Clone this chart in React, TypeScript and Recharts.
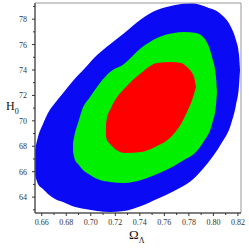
import React from 'react';
import { ComposedChart, Area, XAxis, YAxis, ReferenceArea } from 'recharts';

const xDomain = [0.6545, 0.8225];
const yDomain = [62.75, 79.27];
const xTicks = [0.66, 0.68, 0.70, 0.72, 0.74, 0.76, 0.78, 0.80, 0.82];
const xMinorTicks = [0.67, 0.69, 0.71, 0.73, 0.75, 0.77, 0.79, 0.81];
const yTicks = [64, 66, 68, 70, 72, 74, 76, 78];
const yMinorTicks = [63, 65, 67, 69, 71, 73, 75, 77, 79];

// 3-sigma region (blue)
const blueOmega = [0.6545, 0.6569, 0.6610, 0.6651, 0.6708, 0.6773, 0.6847, 0.6953, 0.7051, 0.7157, 0.7271, 0.7410, 0.7540, 0.7679, 0.7817, 0.7948, 0.8062, 0.8144, 0.8184, 0.8209, 0.8217];
const blueLow = [65.74, 65.03, 64.64, 64.24, 63.85, 63.61, 63.30, 63.06, 62.91, 62.83, 62.91, 63.30, 63.85, 64.48, 65.26, 66.60, 68.17, 69.75, 71.24, 72.81, 73.99];
const blueHigh = [67.70, 68.72, 69.75, 70.61, 71.40, 72.18, 73.05, 74.15, 75.17, 76.03, 76.90, 78.00, 78.71, 79.10, 79.26, 78.94, 78.39, 77.37, 76.35, 75.17, 73.99];

// 2-sigma region (green)
const greenOmega = [0.6855, 0.6871, 0.6896, 0.6928, 0.6994, 0.7075, 0.7157, 0.7271, 0.7410, 0.7540, 0.7679, 0.7760, 0.7858, 0.7923, 0.7989, 0.8021, 0.8029];
const greenLow = [67.55, 66.92, 66.60, 66.21, 65.74, 65.34, 65.19, 65.11, 65.34, 65.82, 66.45, 66.92, 67.55, 68.41, 69.75, 71.24, 72.27];
const greenHigh = [68.26, 69.04, 69.83, 70.85, 71.87, 72.98, 73.84, 74.47, 75.73, 76.52, 76.91, 76.99, 76.91, 76.52, 75.02, 73.45, 72.27];

// 1-sigma region (red)
const redOmega = [0.7124, 0.7132, 0.7157, 0.7198, 0.7279, 0.7410, 0.7540, 0.7654, 0.7736, 0.7785, 0.7826, 0.7842, 0.7858];
const redLow = [68.81, 68.49, 68.18, 67.78, 67.47, 67.55, 68.02, 68.73, 69.75, 70.69, 71.64, 72.11, 72.66];
const redHigh = [69.75, 70.22, 70.85, 71.64, 72.58, 73.76, 74.55, 74.63, 74.55, 74.23, 73.76, 73.45, 72.66];

type Row = { x: number; blue?: number[]; green?: number[]; red?: number[] };
const rows: Row[] = [];
blueOmega.forEach((x, i) => rows.push({ x, blue: [blueLow[i], blueHigh[i]] }));
greenOmega.forEach((x, i) => rows.push({ x, green: [greenLow[i], greenHigh[i]] }));
redOmega.forEach((x, i) => rows.push({ x, red: [redLow[i], redHigh[i]] }));
rows.sort((a, b) => a.x - b.x);

const FONT = '"Liberation Serif", "DejaVu Serif", serif';
const AXIS = '#333';

const XTick = (props: any) => {
  const { x, y, payload } = props;
  const v = payload.value;
  const major = xTicks.some((t) => Math.abs(t - v) < 1e-6);
  return (
    <g>
      <line x1={x} x2={x} y1={y} y2={y + (major ? 3 : 2)} stroke={AXIS} strokeWidth={1} />
      {major && (
        <text x={x} y={y + 12} textAnchor="middle" fontSize={8} fill={AXIS} fontFamily={FONT}>
          {v.toFixed(2)}
        </text>
      )}
    </g>
  );
};

const YTick = (props: any) => {
  const { x, y, payload } = props;
  const v = payload.value;
  const major = yTicks.some((t) => Math.abs(t - v) < 1e-6);
  return (
    <g>
      <line x1={x} x2={x - (major ? 3 : 2)} y1={y} y2={y} stroke={AXIS} strokeWidth={1} />
      {major && (
        <text x={x - 8} y={y + 3} textAnchor="end" fontSize={8} fill={AXIS} fontFamily={FONT}>
          {String(v)}
        </text>
      )}
    </g>
  );
};

const allX = [...xTicks, ...xMinorTicks].sort((a, b) => a - b);
const allY = [...yTicks, ...yMinorTicks].sort((a, b) => a - b);

export default function App() {
  return (
    <div style={{ position: 'absolute', left: 0, top: 0, width: 249, height: 249, background: '#fff' }}>
      <ComposedChart width={249} height={249} data={rows} margin={{ top: 3, right: 8, bottom: 0, left: 0 }}>
        <XAxis
          dataKey="x"
          type="number"
          domain={xDomain}
          allowDataOverflow
          ticks={allX}
          interval={0}
          tick={<XTick />}
          tickLine={false}
          tickSize={0}
          tickMargin={0}
          height={36}
          axisLine={{ stroke: AXIS }}
          label={{
            content: () => (
              <text x={129} y={239} fontSize={13} fill="#111" fontFamily={FONT}>
                Ω<tspan fontSize={8} dy={4}>Λ</tspan>
              </text>
            ),
          }}
        />
        <YAxis
          type="number"
          domain={yDomain}
          allowDataOverflow
          ticks={allY}
          interval={0}
          tick={<YTick />}
          tickLine={false}
          tickSize={0}
          tickMargin={0}
          width={35}
          axisLine={{ stroke: AXIS }}
          label={{
            content: () => (
              <text x={6} y={110} fontSize={12} fill="#111" fontFamily={FONT}>
                H<tspan fontSize={8} dy={4}>0</tspan>
              </text>
            ),
          }}
        />
        <Area type="monotoneX" dataKey="blue" stroke="none" fill="#0a0af5" fillOpacity={1} connectNulls dot={false} activeDot={false} isAnimationActive={false} />
        <Area type="monotoneX" dataKey="green" stroke="none" fill="#00f000" fillOpacity={1} connectNulls dot={false} activeDot={false} isAnimationActive={false} />
        <Area type="monotoneX" dataKey="red" stroke="none" fill="#ff0000" fillOpacity={1} connectNulls dot={false} activeDot={false} isAnimationActive={false} />
        <ReferenceArea x1={xDomain[0]} x2={xDomain[1]} y1={yDomain[0]} y2={yDomain[1]} fill="none" stroke="#999" strokeWidth={1} ifOverflow="visible" />
      </ComposedChart>
    </div>
  );
}
